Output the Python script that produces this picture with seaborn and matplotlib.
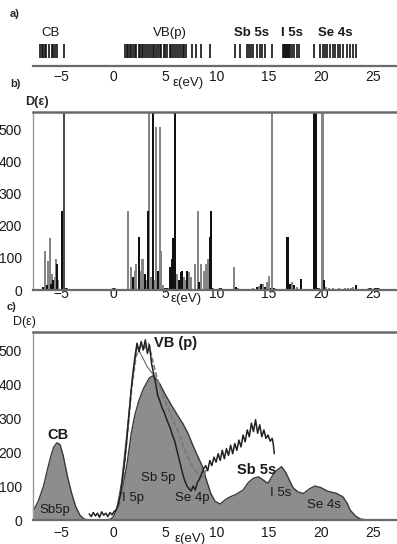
import numpy as np
import matplotlib
matplotlib.use("Agg")
import matplotlib.pyplot as plt
import seaborn as sns
import pandas as pd

# --- дані панелі a): положення рівнів (штрихи)
a_levels = [-7.0, -6.85, -6.7, -6.5, -6.45, -6.2, -5.9, -5.75, -5.6, -5.4, -4.7,
            1.15, 1.3, 1.45, 1.6, 1.75, 1.9, 2.1, 2.25, 2.45, 2.6, 2.75, 2.9, 3.1,
            3.3, 3.45, 3.6, 3.8, 3.95, 4.15, 4.3, 4.5, 4.65, 4.85, 5.0, 5.2, 5.45,
            5.6, 5.8, 5.95, 6.15, 6.35, 6.5, 6.7, 6.85, 7.05, 7.6, 8.0, 8.5, 9.3,
            11.7, 12.2, 12.85, 13.1, 13.3, 13.5, 13.8, 14.1, 14.3, 14.6, 15.3,
            16.3, 16.4, 16.5, 16.6, 16.7, 16.8, 16.9, 17.0, 17.2, 17.4, 17.7, 17.9,
            19.3, 19.9, 20.2, 20.4, 20.6, 20.9, 21.1, 21.3, 21.6, 21.8, 22.1, 22.5,
            22.8, 23.1, 23.4]
a_labels = ["CB", "VB(p)", "Sb 5s", "I 5s", "Se 4s"]
a_label_x = [-6.0, 5.5, 13.3, 17.2, 21.4]
a_label_bold = [False, False, True, True, True]

# --- дані панелі b): стовпчики D(e)
b_pos = [-6.75, -6.55, -6.4, -6.3, -6.1, -6.0, -5.9, -5.75, -5.6, -5.5, -5.4, -5.25, -4.95, -4.75,
         1.45, 1.75, 1.95, 2.1, 2.25, 2.45, 2.6, 2.75, 2.9, 3.05, 3.2, 3.4, 3.5, 3.65, 3.85,
         4.0, 4.15, 4.3, 4.5, 4.65, 4.8, 5.45, 5.65, 5.8, 5.98, 6.15, 6.3, 6.5, 6.65, 6.8,
         7.0, 7.15, 7.3, 7.45, 7.85, 8.2, 8.3, 8.45, 8.75, 8.95, 9.15, 9.3, 9.45,
         11.6, 11.8, 12.0, 12.3, 12.6, 12.9, 13.2, 13.5, 13.8, 14.0, 14.2, 14.4, 14.6, 14.8,
         15.0, 15.3, 16.7, 16.85, 17.0, 17.2, 17.4, 17.7, 18.05, 19.35, 19.5, 20.05, 20.2,
         20.3, 20.5, 20.8, 21.1, 21.4, 21.7, 22.0, 22.3, 22.6, 22.9, 23.1, 23.35]
b_height = [10, 120, 15, 90, 160, 20, 50, 30, 40, 95, 80, 30, 245, 560,
            245, 70, 40, 60, 80, 165, 60, 95, 95, 50, 30, 245, 560, 40, 560,
            30, 505, 60, 505, 120, 15, 70, 95, 160, 560, 50, 30, 55, 60, 40,
            30, 60, 55, 40, 80, 245, 25, 80, 60, 80, 95, 165, 245,
            70, 8, 5, 4, 3, 3, 4, 5, 8, 12, 20, 18, 10, 25,
            45, 560, 165, 165, 20, 25, 15, 8, 35, 560, 560, 560, 560,
            30, 10, 6, 5, 4, 5, 4, 5, 5, 6, 8, 15]
b_kind = list("kgkggkgkggkgkd"
              "ggkggkgggkgkggk"
              "ggkgggkkkkgkkkg"
              "gkggggkggggkk"
              "gkggggggkgkgkg"
              "ggkkkgkgkkkgg"
              "kggggggggggk")

# --- дані панелі c): розрахована густина станів (заливка)
c_x = [-7.7, -7.2, -6.7, -6.3, -6.0, -5.7, -5.4, -5.1, -4.8, -4.4, -4.0, -3.6, -3.2, -2.8,
       -2.4, -1.0, -0.3, 0.0, 0.3, 0.8, 1.3, 1.75, 2.1, 2.5, 2.9, 3.2, 3.5, 3.8, 4.1, 4.5,
       5.0, 5.7, 6.2, 6.7, 7.2, 7.6, 8.1, 8.6, 9.0, 9.4, 9.8, 10.3, 10.8, 11.25, 11.8,
       12.5, 13.0, 13.5, 14.0, 14.5, 14.9, 15.5, 16.2, 16.6, 17.3, 17.8, 18.3, 18.9,
       19.4, 20.0, 20.6, 21.5, 22.1, 22.5, 22.8, 23.3, 23.75, 24.5, 27.5]
c_y = [25, 55, 98, 150, 186, 215, 227, 222, 190, 130, 80, 40, 15, 3,
       0, 0, 2, 8, 29, 78, 157, 255, 310, 353, 385, 402, 418, 424, 417, 400,
       370, 333, 308, 284, 255, 225, 190, 157, 115, 78, 55, 47, 60, 68, 75,
       88, 110, 123, 127, 116, 108, 140, 157, 140, 95, 82, 78, 92,
       100, 95, 85, 78, 68, 50, 29, 12, 3, 0, 0]

# експериментальна крива (шумна)
e_x = [-2.3, -2.1, -1.9, -1.7, -1.5, -1.3, -1.1, -0.9, -0.7, -0.5, -0.3, -0.1, 0.1, 0.3,
       0.5, 0.7, 0.9, 1.1, 1.3, 1.5, 1.7, 1.9, 2.1, 2.3, 2.5, 2.7, 2.9, 3.1, 3.3, 3.5,
       3.7, 3.9, 4.1, 4.3, 4.5, 4.7, 4.9, 5.1, 5.3, 5.5, 5.7, 5.9, 6.1, 6.3, 6.5, 6.7,
       6.9, 7.1, 7.3, 7.5, 7.7, 7.9, 8.1, 8.3, 8.5, 8.7, 8.9, 9.1, 9.3, 9.5, 9.7, 9.9,
       10.1, 10.3, 10.5, 10.7, 10.9, 11.1, 11.3, 11.5, 11.7, 11.9, 12.1, 12.3, 12.5,
       12.7, 12.9, 13.1, 13.3, 13.5, 13.7, 13.9, 14.1, 14.3, 14.5, 14.7, 14.9, 15.1,
       15.3, 15.4, 15.5]
e_y = [18, 10, 22, 12, 20, 8, 24, 14, 20, 10, 22, 15, 25, 30,
       45, 75, 120, 170, 230, 300, 370, 430, 480, 520, 495, 525, 500, 530, 490, 515,
       460, 430, 400, 365, 350, 330, 318, 300, 285, 270, 250, 235, 210, 185, 160, 135,
       115, 100, 92, 85, 100, 88, 110, 120, 135, 150, 160, 145, 175, 160, 185, 170,
       195, 175, 205, 180, 210, 190, 220, 195, 225, 205, 235, 215, 250,
       230, 265, 245, 285, 260, 295, 255, 280, 245, 265, 240, 250, 232,
       240, 225, 195]

# верхня штрихова крива
u_x = [0.6, 1.0, 1.4, 1.8, 2.2, 2.6, 3.0, 3.4, 3.8, 4.2, 4.6, 5.0, 5.4, 5.8, 6.2,
       6.6, 7.0, 7.4, 7.8, 8.2, 8.6, 9.0]
u_y = [40, 130, 260, 390, 480, 510, 505, 520, 470, 420, 385, 350, 320, 290, 265,
       230, 200, 170, 150, 135, 125, 150]

# тонка лінія зліва
t_x = [0.3, 0.8, 1.3, 1.8, 2.3, 2.8, 3.3, 3.8, 4.3]
t_y = [25, 110, 250, 400, 510, 480, 450, 430, 410]

c_labels = ["CB", "VB (p)", "Sb5p", "I 5p", "Sb 5p", "Se 4p", "Sb 5s", "I 5s", "Se 4s"]
c_lab_x = [-5.3, 6.0, -5.6, 1.95, 4.3, 7.6, 13.8, 16.1, 20.3]
c_lab_y = [250, 520, 30, 65, 124, 65, 147, 79, 44]
c_lab_bold = [True, True, False, False, False, False, True, False, False]

xticks = [-5, 0, 5, 10, 15, 20, 25]
yticks = [0, 100, 200, 300, 400, 500]

sns.set_style("white")
plt.rcParams["font.family"] = ["Liberation Sans", "DejaVu Sans"]

W, H = 397, 544
fig = plt.figure(figsize=(W / 100, H / 100), dpi=100)

def frac(left, top, right, bottom):
    return [left / W, 1 - bottom / H, (right - left) / W, (bottom - top) / H]

XLIM = (-7.7, 27.3)
SPINE = "#6a6a6a"
TXT = "#1a1a1a"

# ---------- a)
ax_a = fig.add_axes(frac(33, 40, 397, 66))
ax_a.set_xlim(*XLIM)
ax_a.set_ylim(0, 1)
ax_a.vlines(a_levels, 0.3, 0.84, color="#111111", lw=1.2)
for lab, x, b in zip(a_labels, a_label_x, a_label_bold):
    ax_a.text(x, 1.05, lab, ha="center", va="bottom", fontsize=9.5, color=TXT,
              fontweight="bold" if b else "normal")
for s in ["top", "right", "left"]:
    ax_a.spines[s].set_visible(False)
ax_a.spines["bottom"].set_color(SPINE)
ax_a.spines["bottom"].set_linewidth(1.6)
ax_a.set_yticks([])
ax_a.set_xticks(xticks)
ax_a.tick_params(axis="x", length=0, pad=3, labelsize=10, labelcolor=TXT)
fig.text(188 / W, 1 - 83 / H, "ε(eV)", ha="center", va="center", fontsize=9.5, color=TXT)
fig.text(10 / W, 1 - 14 / H, "a)", ha="left", va="center", fontsize=8, fontweight="bold")

# ---------- b)
ax_b = fig.add_axes(frac(33, 112, 397, 290))
df_b = pd.DataFrame({"x": b_pos, "h": b_height, "k": b_kind})
cmap = {"g": "#858585", "k": "#111111", "d": "#4a4a4a"}
for kind, sub in df_b.groupby("k"):
    ax_b.bar(sub["x"], sub["h"], width=0.19, color=cmap[kind], linewidth=0)
ax_b.set_xlim(*XLIM)
ax_b.set_ylim(0, 553)
ax_b.set_xticks(xticks)
ax_b.set_yticks(yticks)
ax_b.tick_params(axis="x", length=0, pad=-2.5, labelsize=10, labelcolor=TXT)
ax_b.tick_params(axis="y", length=0, pad=8, labelsize=10, labelcolor=TXT)
ax_b.spines["right"].set_visible(False)
ax_b.spines["top"].set_color(SPINE)
ax_b.spines["top"].set_linewidth(1.8)
ax_b.spines["bottom"].set_color(SPINE)
ax_b.spines["bottom"].set_linewidth(1.6)
ax_b.spines["left"].set_color("#9a9a9a")
ax_b.spines["left"].set_linewidth(1.0)
fig.text(186 / W, 1 - 299 / H, "ε(eV)", ha="center", va="center", fontsize=9.5, color=TXT)
fig.text(10 / W, 1 - 84 / H, "b)", ha="left", va="center", fontsize=8, fontweight="bold")
fig.text(25 / W, 1 - 102 / H, "D(ε)", ha="left", va="center", fontsize=9, fontweight="bold")

# ---------- c)
ax_c = fig.add_axes(frac(33, 332, 397, 520))
ax_c.fill_between(c_x, c_y, color="#8d8d8d", linewidth=0)
sns.lineplot(x=c_x, y=c_y, ax=ax_c, color="#3a3a3a", lw=1.0, sort=False)
sns.lineplot(x=t_x, y=t_y, ax=ax_c, color="#555555", lw=0.7, sort=False)
sns.lineplot(x=u_x, y=u_y, ax=ax_c, color="#777777", lw=1.2, ls=(0, (3, 1.5)), sort=False)
sns.lineplot(x=e_x, y=e_y, ax=ax_c, color="#222222", lw=1.1, sort=False)
for lab, x, y, b in zip(c_labels, c_lab_x, c_lab_y, c_lab_bold):
    ax_c.text(x, y, lab, ha="center", va="center", color=TXT, zorder=6,
              fontsize=10.5 if b else 9.5, fontweight="bold" if b else "normal")
ax_c.set_xlim(*XLIM)
ax_c.set_ylim(0, 553)
ax_c.set_xticks(xticks)
ax_c.set_yticks(yticks)
ax_c.tick_params(axis="x", length=0, pad=4, labelsize=10, labelcolor=TXT)
ax_c.tick_params(axis="y", length=0, pad=8, labelsize=10, labelcolor=TXT)
ax_c.spines["right"].set_visible(False)
ax_c.spines["top"].set_color(SPINE)
ax_c.spines["top"].set_linewidth(1.8)
ax_c.spines["bottom"].set_color(SPINE)
ax_c.spines["bottom"].set_linewidth(1.6)
ax_c.spines["left"].set_color("#9a9a9a")
ax_c.spines["left"].set_linewidth(1.0)
fig.text(190 / W, 1 - 539 / H, "ε(eV)", ha="center", va="center", fontsize=9.5, color=TXT)
fig.text(7 / W, 1 - 307 / H, "c)", ha="left", va="center", fontsize=8, fontweight="bold")
fig.text(13 / W, 1 - 322 / H, "D(ε)", ha="left", va="center", fontsize=9, color=TXT)

fig.savefig("out.png", dpi=100)
